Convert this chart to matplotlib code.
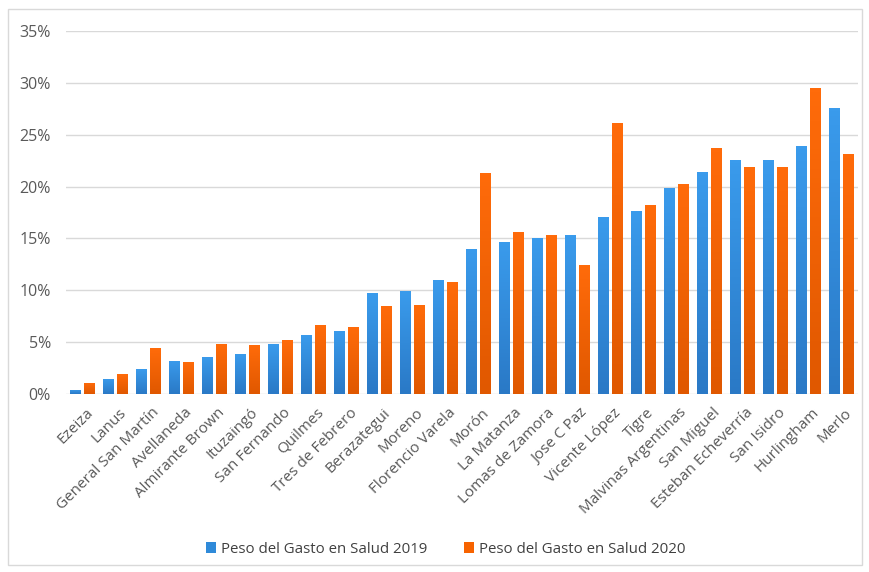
import numpy as np
import matplotlib
matplotlib.use("Agg")
import matplotlib.pyplot as plt
from matplotlib.colors import LinearSegmentedColormap
from matplotlib.patches import Rectangle
from matplotlib.ticker import PercentFormatter
from matplotlib.transforms import ScaledTranslation

plt.rcParams['font.family'] = ['Open Sans', 'DejaVu Sans']

municipios = [
    "Ezeiza", "Lanus", "General San Martín", "Avellaneda", "Almirante Brown",
    "Ituzaingó", "San Fernando", "Quilmes", "Tres de Febrero", "Berazategui",
    "Moreno", "Florencio Varela", "Morón", "La Matanza", "Lomas de Zamora",
    "Jose C Paz", "Vicente López", "Tigre", "Malvinas Argentinas", "San Miguel",
    "Esteban Echeverría", "San Isidro", "Hurlingham", "Merlo",
]
gasto_2019 = [0.4, 1.5, 2.4, 3.2, 3.6, 3.9, 4.8, 5.7, 6.1, 9.7, 9.9, 11.0,
              14.0, 14.7, 15.0, 15.3, 17.1, 17.6, 19.9, 21.4, 22.6, 22.6,
              23.9, 27.6]
gasto_2020 = [1.1, 1.9, 4.4, 3.1, 4.8, 4.7, 5.2, 6.7, 6.5, 8.5, 8.6, 10.8,
              21.3, 15.6, 15.3, 12.4, 26.1, 18.2, 20.2, 23.7, 21.9, 21.9,
              29.5, 23.1]
serie_2019 = "Peso del Gasto en Salud 2019"
serie_2020 = "Peso del Gasto en Salud 2020"

fig = plt.figure(figsize=(8.69, 5.72), dpi=100)
fig.patches.append(Rectangle((0.009, 0.012), 0.983, 0.972, transform=fig.transFigure,
                             fill=False, edgecolor="#d9d9d9", linewidth=1.0))
ax = fig.add_axes([0.076, 0.311, 0.911, 0.635])

x = np.arange(len(municipios))
w = 0.33
off = 0.21
v19 = np.array(gasto_2019) / 100
v20 = np.array(gasto_2020) / 100

blue_cmap = LinearSegmentedColormap.from_list("b", ["#2a79c6", "#3a9bec"])
orange_cmap = LinearSegmentedColormap.from_list("o", ["#e05800", "#ff6b0a"])

bars19 = ax.bar(x - off, v19, width=w, color="#2f8ad9", zorder=2, label=serie_2019)
bars20 = ax.bar(x + off, v20, width=w, color="#f76300", zorder=2, label=serie_2020)

# vertical shading inside each bar
grad = np.linspace(0, 1, 64).reshape(-1, 1)
for bars, cmap in ((bars19, blue_cmap), (bars20, orange_cmap)):
    for b in bars:
        x0, y0 = b.get_x(), b.get_y()
        bw, bh = b.get_width(), b.get_height()
        im = ax.imshow(grad, extent=(x0, x0 + bw, y0, y0 + bh), origin="lower",
                       cmap=cmap, aspect="auto", zorder=2.5)
        im.set_clip_path(b)

ax.set_xlim(-0.5, len(municipios) - 0.5)
ax.set_ylim(0, 0.35)
ax.set_yticks(np.arange(0, 0.351, 0.05))
ax.yaxis.set_major_formatter(PercentFormatter(1.0, decimals=0))
ax.grid(axis="y", color="#d9d9d9", linewidth=1.0, zorder=0)
ax.set_axisbelow(True)
for s in ax.spines.values():
    s.set_visible(False)
ax.tick_params(axis="both", length=0, colors="#595959")
ax.tick_params(axis="y", pad=11, labelsize=11.5)
ax.tick_params(axis="x", pad=8)

ax.set_xticks(x)
ax.set_xticklabels(municipios, rotation=45, ha="right", rotation_mode="anchor",
                   fontsize=11, color="#595959")
shift = ScaledTranslation(0.03, 0, fig.dpi_scale_trans)
for lbl in ax.get_xticklabels():
    lbl.set_transform(lbl.get_transform() + shift)

fig.legend(handles=[bars19, bars20], loc="center", bbox_to_anchor=(0.513, 0.04),
           ncol=2, frameon=False, fontsize=10.8, handlelength=0.7, handleheight=0.7,
           columnspacing=2.4, handletextpad=0.35, labelcolor="#404040")

fig.savefig("out.png", dpi=100)
